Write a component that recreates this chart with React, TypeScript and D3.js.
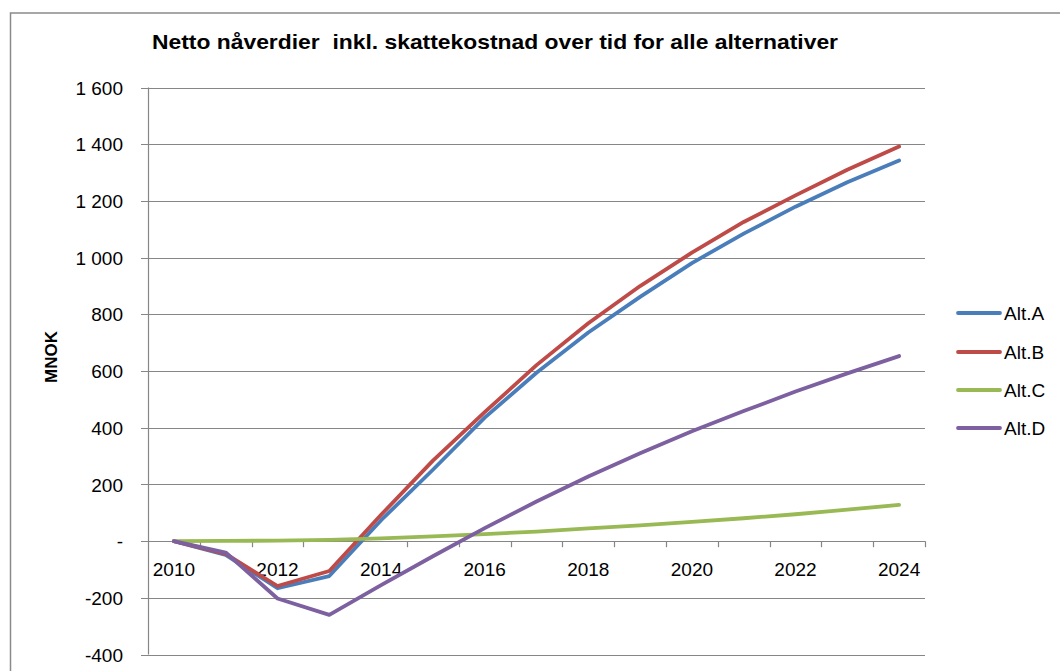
import React from "react";
import * as d3 from "d3";

const years = ["2010","2011","2012","2013","2014","2015","2016","2017","2018","2019","2020","2021","2022","2023","2024"];
const altA = [0, -48, -166, -123, 74, 252, 436, 594, 736, 862, 981, 1085, 1180, 1266, 1343];
const altB = [0, -45, -158, -105, 93, 284, 455, 621, 769, 900, 1018, 1126, 1220, 1310, 1392];
const altC = [0, 1, 2, 5, 10, 17, 25, 34, 45, 56, 68, 81, 95, 111, 128];
const altD = [0, -40, -202, -260, -155, -53, 46, 140, 228, 310, 388, 459, 528, 592, 653];
const yTicks = [1600, 1400, 1200, 1000, 800, 600, 400, 200, 0, -200, -400];
const yTickLabels = ["1 600", "1 400", "1 200", "1 000", "800", "600", "400", "200", "-", "-200", "-400"];
const xLabelYears = ["2010","2012","2014","2016","2018","2020","2022","2024"];
const seriesNames = ["Alt.A", "Alt.B", "Alt.C", "Alt.D"];
const seriesColors = ["#4A7EBB", "#BE4B48", "#98B954", "#7D60A0"];
const seriesValues = [altA, altB, altC, altD];

const FONT = "'Liberation Sans', Arial, sans-serif";

export default function App() {
  const left = 148, right = 925, top = 87.6, bottom = 654.6;
  const x = d3.scaleBand<string>().domain(years).range([left, right]);
  const xc = (yr: string) => (x(yr) as number) + x.bandwidth() / 2;
  const y = d3.scaleLinear().domain([-400, 1600]).range([bottom, top]);
  const y0 = y(0);
  const line = d3.line<number>().x((_, i) => xc(years[i])).y((v) => y(v));
  const grid = "#868686";

  const legendY = [313, 352, 390, 428];

  return (
    <svg width={1060} height={671} style={{ position: "absolute", left: 0, top: 0, background: "#fff" }}>
      <rect x={10.5} y={13} width={1100} height={700} fill="#fff" stroke="#8a8a8a" strokeWidth={1.5} />
      <text x={495} y={48.5} textAnchor="middle" fontFamily={FONT} fontWeight="bold" fontSize={21}
        textLength={686} lengthAdjust="spacingAndGlyphs" style={{ whiteSpace: "pre" }}>
        {"Netto nåverdier  inkl. skattekostnad over tid for alle alternativer"}
      </text>
      {yTicks.map((t, i) => (
        <g key={t}>
          <line x1={left - 7} x2={right} y1={Math.round(y(t)) + 0.5} y2={Math.round(y(t)) + 0.5} stroke={grid} strokeWidth={1.2} />
          <text x={123} y={y(t) + 7} textAnchor="end" fontFamily={FONT} fontSize={19} fill="#000">{yTickLabels[i]}</text>
        </g>
      ))}
      <line x1={left + 0.5} x2={left + 0.5} y1={top} y2={bottom} stroke={grid} strokeWidth={1.2} />
      {d3.range(1, years.length + 1).map((k) => {
        const xx = Math.round(left + k * x.bandwidth()) + 0.5;
        return <line key={k} x1={xx} x2={xx} y1={y0} y2={y0 + 6} stroke={grid} strokeWidth={1.2} />;
      })}
      {xLabelYears.map((yr) => (
        <text key={yr} x={xc(yr)} y={576} textAnchor="middle" fontFamily={FONT} fontSize={19} fill="#000">{yr}</text>
      ))}
      <text transform={`translate(57,357) rotate(-90)`} textAnchor="middle" fontFamily={FONT} fontWeight="bold" fontSize={17}>MNOK</text>
      {seriesValues.map((vals, i) => (
        <path key={seriesNames[i]} d={line(vals) || ""} fill="none" stroke={seriesColors[i]} strokeWidth={3.8}
          strokeLinejoin="round" strokeLinecap="round" />
      ))}
      {seriesNames.map((n, i) => (
        <g key={n}>
          <line x1={958} x2={1000} y1={legendY[i]} y2={legendY[i]} stroke={seriesColors[i]} strokeWidth={3.8} strokeLinecap="round" />
          <text x={1004} y={legendY[i] + 7} fontFamily={FONT} fontSize={19} fill="#000">{n}</text>
        </g>
      ))}
    </svg>
  );
}
